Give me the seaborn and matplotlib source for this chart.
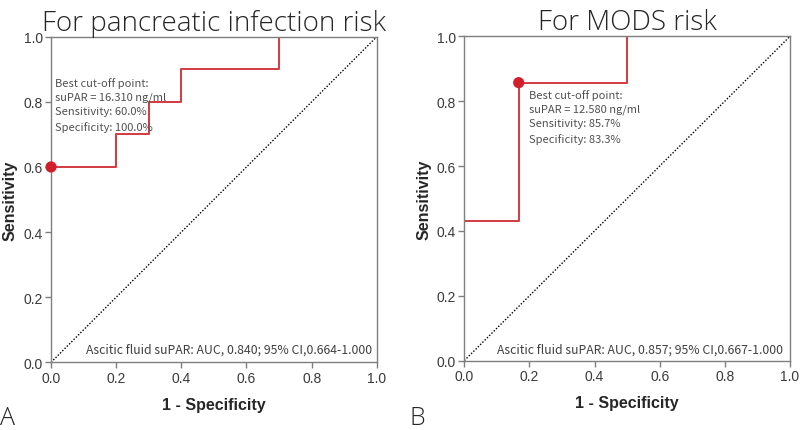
import matplotlib
matplotlib.use('Agg')
import matplotlib.pyplot as plt
import pandas as pd
import seaborn as sns

# ROC 数据
fpr_a = [0, 0, 0.2, 0.2, 0.3, 0.3, 0.4, 0.4, 0.7, 0.7, 1.0]
tpr_a = [0, 0.6, 0.6, 0.7, 0.7, 0.8, 0.8, 0.9, 0.9, 1.0, 1.0]
cut_a = (0.0, 0.6)
fpr_b = [0, 0, 0.167, 0.167, 0.5, 0.5, 1.0]
tpr_b = [0, 0.429, 0.429, 0.857, 0.857, 1.0, 1.0]
cut_b = (0.167, 0.857)

titles = ['For pancreatic infection risk', 'For MODS risk']
panel_labels = ['A', 'B']
best_text = ['Best cut-off point:\nsuPAR = 16.310 ng/ml\nSensitivity: 60.0%\nSpecificity: 100.0%',
             'Best cut-off point:\nsuPAR = 12.580 ng/ml\nSensitivity: 85.7%\nSpecificity: 83.3%']
auc_text = ['Ascitic fluid suPAR: AUC, 0.840; 95% CI,0.664-1.000',
            'Ascitic fluid suPAR: AUC, 0.857; 95% CI,0.667-1.000']
ticks = [0.0, 0.2, 0.4, 0.6, 0.8, 1.0]

sns.set_style('white')
plt.rcParams['font.family'] = ['Liberation Sans', 'DejaVu Sans']
title_font = ['Open Sans', 'Noto Sans CJK SC', 'DejaVu Sans']
note_font = ['Noto Sans CJK SC', 'DejaVu Sans']

fig = plt.figure(figsize=(8, 4.31), dpi=100)
ax_a = fig.add_axes([0.0638, 0.157, 0.4072, 0.7555])
ax_b = fig.add_axes([0.5804, 0.161, 0.4071, 0.7525])

red = '#d23a3f'
gray = '#7f7f7f'
panels = [(ax_a, fpr_a, tpr_a, cut_a, (0.013, 0.877), (0.985, 0.041)),
          (ax_b, fpr_b, tpr_b, cut_b, (0.199, 0.838), (0.979, 0.036))]

for i, (ax, fpr, tpr, cut, txt_pos, auc_pos) in enumerate(panels):
    df = pd.DataFrame({'fpr': fpr, 'tpr': tpr})
    sns.lineplot(data=df, x='fpr', y='tpr', sort=False, estimator=None,
                 color=red, lw=1.4, ax=ax)
    diag = pd.DataFrame({'x': [0, 1], 'y': [0, 1]})
    sns.lineplot(data=diag, x='x', y='y', color='black', lw=1.0,
                 linestyle=(0, (1, 1.3)), ax=ax)
    sns.scatterplot(x=[cut[0]], y=[cut[1]], color='#d01f2a', s=65,
                    edgecolor='none', zorder=5, clip_on=False, ax=ax)
    ax.set_xlim(0, 1)
    ax.set_ylim(0, 1)
    ax.set_xticks(ticks)
    ax.set_yticks(ticks)
    ax.set_xticklabels([f'{t:.1f}' for t in ticks])
    ax.set_yticklabels([f'{t:.1f}' for t in ticks])
    ax.tick_params(axis='both', which='both', bottom=True, left=True, length=4,
                   width=1, color=gray, labelsize=10, labelcolor='#3a3a3a', pad=2)
    for sp in ax.spines.values():
        sp.set_color(gray)
        sp.set_linewidth(1.0)
    ax.set_xlabel('1 - Specificity', fontsize=11.5, fontweight='bold', labelpad=9)
    ax.set_ylabel('Sensitivity', fontsize=11.5, fontweight='bold', labelpad=4)
    ax.set_title(titles[i], fontsize=20, pad=4, family=title_font, fontweight='light')
    ax.text(txt_pos[0], txt_pos[1], best_text[i], ha='left', va='top',
            fontsize=8, color='#505050', linespacing=1.5, family=note_font)
    ax.text(auc_pos[0], auc_pos[1], auc_text[i], ha='right', va='center',
            fontsize=8.8, color='#404040', family=note_font)

fig.text(0.0, 0.013, panel_labels[0], fontsize=18, family=title_font, fontweight='light')
fig.text(0.512, 0.013, panel_labels[1], fontsize=18, family=title_font, fontweight='light')

fig.savefig('out.png', dpi=100)
